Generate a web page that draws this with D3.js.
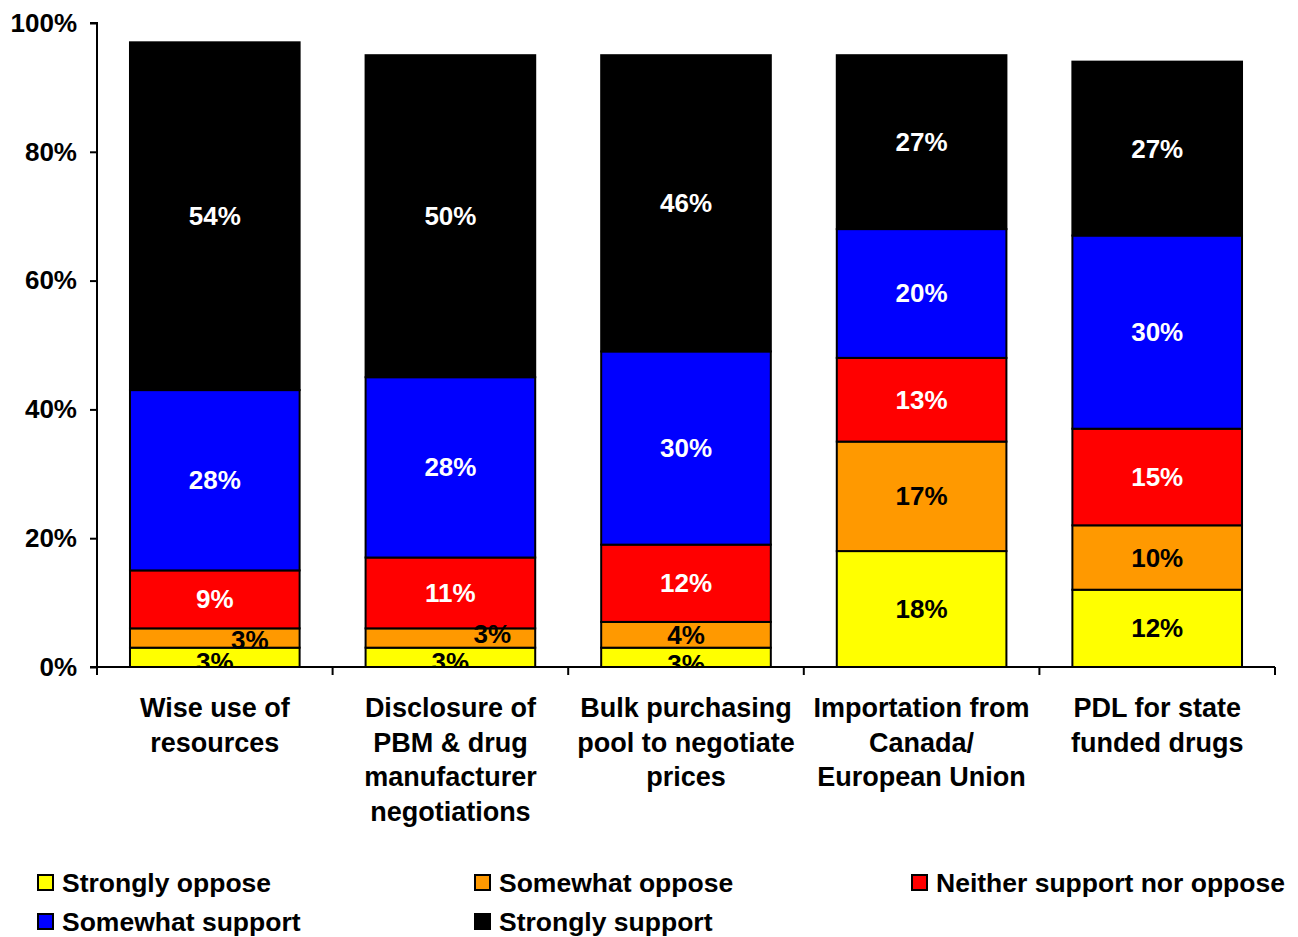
<!DOCTYPE html>
<html>
<head>
<meta charset="utf-8">
<script src="https://cdn.jsdelivr.net/npm/d3@7"></script>
<style>
  body { margin: 0; background: #fff; }
  text { font-family: "Liberation Sans", Arial, sans-serif; font-weight: bold; }
</style>
</head>
<body>
<div id="chart"></div>
<script>
// categories (multi-line labels)
const categories = [
    ["Wise use of", "resources"],
    ["Disclosure of", "PBM & drug", "manufacturer", "negotiations"],
    ["Bulk purchasing", "pool to negotiate", "prices"],
    ["Importation from", "Canada/", "European Union"],
    ["PDL for state", "funded drugs"]
];
const seriesNames = ["Strongly oppose", "Somewhat oppose", "Neither support nor oppose", "Somewhat support", "Strongly support"];
const seriesColors = ["#FFFF00", "#FF9900", "#FF0000", "#0000FF", "#000000"];
const labelColors = ["#000", "#000", "#fff", "#fff", "#fff"];

// series values (percent), one array per series
const stronglyOppose = [3, 3, 3, 18, 12];
const somewhatOppose = [3, 3, 4, 17, 10];
const neither = [9, 11, 12, 13, 15];
const somewhatSupport = [28, 28, 30, 20, 30];
const stronglySupport = [54, 50, 46, 27, 27];
const yTicks = [0, 20, 40, 60, 80, 100];

const seriesValues = [stronglyOppose, somewhatOppose, neither, somewhatSupport, stronglySupport];

const width = 1298, height = 937;
const margin = { left: 97, right: 23, top: 23, bottom: 270 };
const plotW = width - margin.left - margin.right;
const plotH = height - margin.top - margin.bottom;

const svg = d3.select("#chart").append("svg")
    .attr("width", width).attr("height", height);

const x = d3.scaleBand().domain(d3.range(categories.length)).range([0, plotW]).paddingInner(0.28).paddingOuter(0.14);
const y = d3.scaleLinear().domain([0, 100]).range([plotH, 0]);

const g = svg.append("g").attr("transform", `translate(${margin.left},${margin.top})`);

// build stack
const rows = categories.map((c, i) => {
    const r = { i: i };
    seriesNames.forEach((s, k) => r[s] = seriesValues[k][i]);
    return r;
});
const stacked = d3.stack().keys(seriesNames)(rows);

g.append("clipPath").attr("id", "plotclip")
    .append("rect").attr("x", 0).attr("y", -5).attr("width", plotW).attr("height", plotH + 5);

// bars
stacked.forEach((layer, k) => {
    g.append("g").selectAll("rect").data(layer).enter().append("rect")
        .attr("x", d => x(d.data.i))
        .attr("y", d => y(d[1]))
        .attr("width", x.bandwidth())
        .attr("height", d => y(d[0]) - y(d[1]))
        .attr("fill", seriesColors[k])
        .attr("stroke", "#000").attr("stroke-width", 2);
});

// small label nudges for thin segments (key: category index-series index)
const nudge = { "0-1": [35, 2], "1-1": [42, -4], "0-0": [0, 5], "1-0": [0, 5], "2-0": [0, 7] };

// value labels
const labels = g.append("g").attr("clip-path", "url(#plotclip)");
stacked.forEach((layer, k) => {
    layer.forEach(d => {
        const n = nudge[d.data.i + "-" + k] || [0, 0];
        labels.append("text")
            .attr("x", x(d.data.i) + x.bandwidth() / 2 + n[0])
            .attr("y", (y(d[0]) + y(d[1])) / 2 + n[1])
            .attr("text-anchor", "middle")
            .attr("dominant-baseline", "central")
            .attr("font-size", 26)
            .attr("fill", labelColors[k])
            .text(seriesValues[k][d.data.i] + "%");
    });
});

// y axis
const yAxis = g.append("g")
    .call(d3.axisLeft(y).tickValues(yTicks).tickFormat(d => d + "%").tickSize(7).tickPadding(13));
yAxis.select(".domain").attr("stroke", "#000").attr("stroke-width", 2).attr("d", `M-7,${plotH}H0V0H-7`);
yAxis.selectAll(".tick line").attr("stroke", "#000").attr("stroke-width", 2);
yAxis.selectAll(".tick text").attr("font-size", 26).attr("fill", "#000")
    .style("font-family", "'Liberation Sans', Arial, sans-serif").style("font-weight", "bold");

// x axis line with ticks between categories
const xa = g.append("g").attr("transform", `translate(0,${plotH})`);
xa.append("line").attr("x1", 0).attr("x2", plotW).attr("stroke", "#000").attr("stroke-width", 2);
const step = x.step();
const bounds = d3.range(categories.length + 1).map(i => i * step);
xa.selectAll(".xt").data(bounds).enter().append("line")
    .attr("x1", d => d).attr("x2", d => d).attr("y1", 0).attr("y2", 8)
    .attr("stroke", "#000").attr("stroke-width", 2);

// category labels
categories.forEach((lines, i) => {
    const t = g.append("text")
        .attr("x", x(i) + x.bandwidth() / 2)
        .attr("y", plotH + 50)
        .attr("text-anchor", "middle")
        .attr("font-size", 27)
        .attr("fill", "#000");
    lines.forEach((ln, j) => {
        t.append("tspan").attr("x", x(i) + x.bandwidth() / 2).attr("dy", j === 0 ? 0 : 34.5).text(ln);
    });
});

// legend
const legendX = [38, 475, 912];
const legendY = [883, 922];
const legend = svg.append("g");
seriesNames.forEach((s, k) => {
    const lx = legendX[k % 3], ly = legendY[Math.floor(k / 3)];
    legend.append("rect")
        .attr("x", lx).attr("y", ly - 8).attr("width", 15).attr("height", 15)
        .attr("fill", seriesColors[k]).attr("stroke", "#000").attr("stroke-width", 2);
    legend.append("text")
        .attr("x", lx + 24).attr("y", ly)
        .attr("dominant-baseline", "central")
        .attr("font-size", 26.5).attr("fill", "#000")
        .text(s);
});
</script>
</body>
</html>
